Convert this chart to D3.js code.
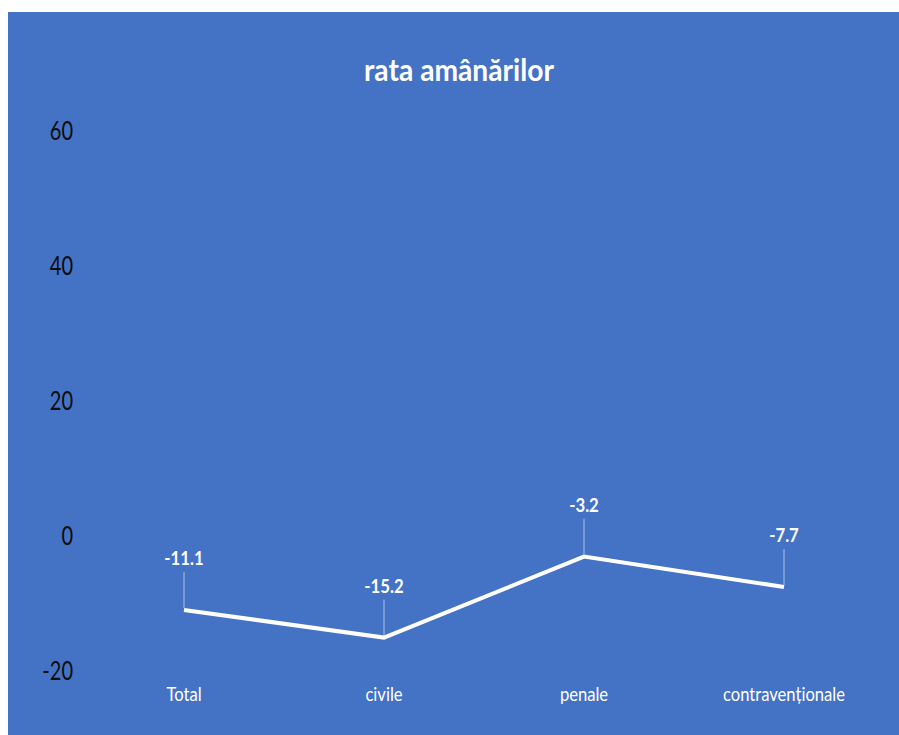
<!DOCTYPE html>
<html>
<head>
<meta charset="utf-8">
<script src="https://cdn.jsdelivr.net/npm/d3@7"></script>
<style>
  html, body { margin: 0; padding: 0; background: #ffffff; }
  svg { display: block; }
</style>
</head>
<body>
<div class="chart"></div>
<script>
// chart data
var categories = ["Total", "civile", "penale", "contravenționale"];
var values = [-11.1, -15.2, -3.2, -7.7];
var yTicks = [-20, 0, 20, 40, 60];
var title = "rata amânărilor";

const width = 899,
  height = 735;
const font = "Lato, 'Open Sans', sans-serif";

// plain hyphen for negatives, like the original
d3.formatDefaultLocale({ decimal: ".", thousands: ",", grouping: [3], currency: ["", ""], minus: "-" });

var svg = d3
  .select(".chart")
  .append("svg")
  .attr("width", width)
  .attr("height", height);

//background
svg
  .append("rect")
  .attr("x", 8)
  .attr("y", 12)
  .attr("width", width - 8)
  .attr("height", height - 12)
  .attr("fill", "#4472c4");

//scales
const x = d3.scaleBand().domain(categories).range([84, 884]);
const y = d3.scaleLinear().domain([-20, 60]).range([670, 130]);

//title (slightly condensed, like the original font)
svg
  .append("text")
  .attr("transform", "translate(459,81) scale(0.91,1)")
  .attr("text-anchor", "middle")
  .attr("font-family", font)
  .attr("font-weight", "bold")
  .attr("font-size", 31)
  .attr("fill", "#ffffff")
  .text(title);

//y axis labels only
const yAxis = svg
  .append("g")
  .attr("transform", "translate(73,0)")
  .call(d3.axisLeft(y).tickValues(yTicks).tickSize(0).tickPadding(0).tickFormat(d3.format("d")));
yAxis.select(".domain").remove();
yAxis
  .selectAll("text")
  .attr("x", 0)
  .attr("transform", "scale(0.77,1)")
  .attr("font-family", font)
  .attr("font-size", 26)
  .attr("fill", "#0d0d0d")
  .attr("dy", "0.36em");

//category labels
const xAxis = svg
  .append("g")
  .attr("transform", "translate(0,701)")
  .call(d3.axisBottom(x).tickSize(0).tickPadding(0));
xAxis.select(".domain").remove();
xAxis
  .selectAll("text")
  .attr("y", 0)
  .attr("transform", "scale(0.83,1)")
  .attr("font-family", font)
  .attr("font-size", 20)
  .attr("fill", "#ffffff")
  .attr("dy", 0);

const cx = (d) => x(d) + x.bandwidth() / 2;
var points = categories.map((c, i) => ({ cat: c, val: values[i] }));

//leader lines
svg
  .selectAll(".leader")
  .data(points)
  .join("line")
  .attr("class", "leader")
  .attr("x1", (d) => cx(d.cat))
  .attr("x2", (d) => cx(d.cat))
  .attr("y1", (d) => y(d.val) - 38)
  .attr("y2", (d) => y(d.val) - 2)
  .attr("stroke", "#a9bfe6")
  .attr("stroke-width", 1);

//the line
svg
  .append("path")
  .datum(points)
  .attr("fill", "none")
  .attr("stroke", "#ffffff")
  .attr("stroke-width", 4)
  .attr(
    "d",
    d3
      .line()
      .x((d) => cx(d.cat))
      .y((d) => y(d.val))
  );

//data labels
svg
  .selectAll(".dlabel")
  .data(points)
  .join("text")
  .attr("class", "dlabel")
  .attr("transform", (d) => "translate(" + cx(d.cat) + "," + (y(d.val) - 45) + ") scale(0.88,1)")
  .attr("text-anchor", "middle")
  .attr("font-family", font)
  .attr("font-weight", "bold")
  .attr("font-size", 19)
  .attr("fill", "#ffffff")
  .text((d) => d3.format(".1f")(d.val));
</script>
</body>
</html>
